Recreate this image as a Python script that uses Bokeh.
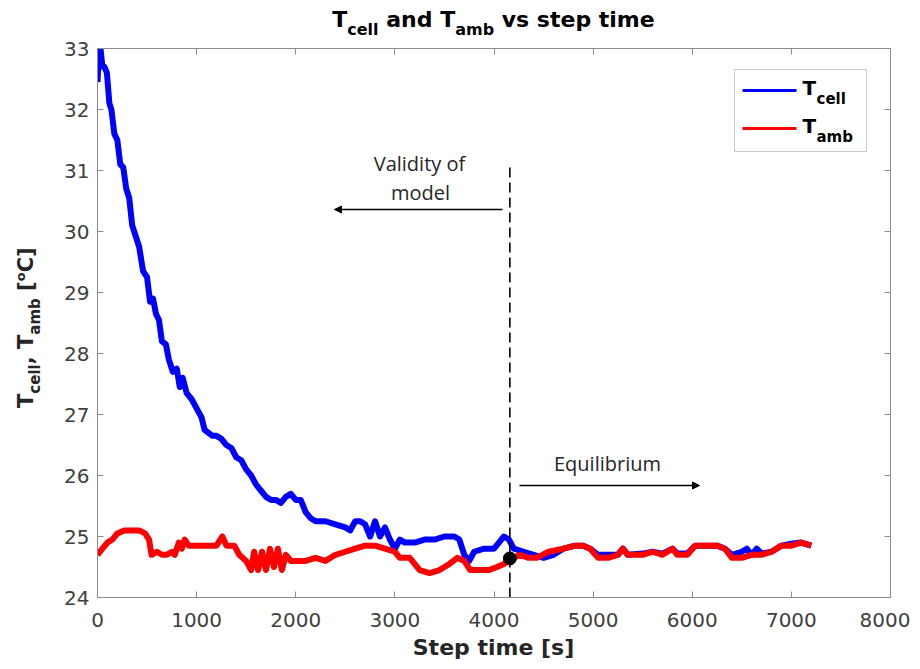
import numpy as np
from bokeh.plotting import figure
from bokeh.models import (Range1d, LinearAxis, Label, Arrow, NormalHead, BoxAnnotation,
                          FixedTicker, CustomJSTickFormatter, Div, Column, Row)
from bokeh.embed import file_html
from bokeh.resources import INLINE

# ---------------- data ----------------
t_cell = [0, 15, 30, 50, 70, 95, 120, 140, 170, 200, 230, 260, 290, 320, 350, 380, 420, 460,
          500, 530, 560, 590, 620, 650, 690, 720, 760, 800, 830, 860, 900, 950, 1000, 1050,
          1080, 1120, 1160, 1200, 1250, 1300, 1350, 1400, 1450, 1500, 1550, 1600, 1650, 1700,
          1750, 1800, 1850, 1900, 1950, 2000, 2050, 2100, 2150, 2200, 2300, 2400, 2500, 2550,
          2600, 2650, 2700, 2750, 2800, 2850, 2900, 2950, 3000, 3050, 3100, 3200, 3300, 3400,
          3500, 3600, 3650, 3700, 3750, 3800, 3900, 4000, 4050, 4100, 4150, 4200, 4300, 4400,
          4500, 4600, 4700, 4820, 4900, 4970, 5050, 5150, 5250, 5300, 5350, 5500, 5600, 5700,
          5800, 5850, 5950, 6030, 6150, 6250, 6330, 6400, 6500, 6550, 6600, 6650, 6700, 6800,
          6900, 7000, 7100, 7200]
T_cell = [32.45, 32.95, 33.0, 32.7, 32.7, 32.6, 32.1, 32.0, 31.6, 31.5, 31.1, 31.05, 30.7, 30.55,
          30.1, 29.95, 29.75, 29.35, 29.25, 28.85, 28.9, 28.65, 28.55, 28.2, 28.15, 27.9, 27.7,
          27.75, 27.45, 27.6, 27.35, 27.25, 27.1, 26.95, 26.75, 26.7, 26.65, 26.65, 26.6, 26.5,
          26.45, 26.3, 26.25, 26.1, 26.0, 25.85, 25.75, 25.65, 25.6, 25.6, 25.55, 25.65, 25.7,
          25.6, 25.6, 25.4, 25.3, 25.25, 25.25, 25.2, 25.15, 25.1, 25.25, 25.25, 25.2, 25.0,
          25.25, 25.0, 25.15, 24.95, 24.8, 24.95, 24.9, 24.9, 24.95, 24.95, 25.0, 25.0, 24.95,
          24.7, 24.6, 24.75, 24.8, 24.8, 24.9, 25.0, 24.95, 24.8, 24.75, 24.7, 24.65, 24.7, 24.8,
          24.85, 24.85, 24.8, 24.7, 24.7, 24.7, 24.8, 24.7, 24.72, 24.75, 24.72, 24.8, 24.72,
          24.72, 24.85, 24.85, 24.85, 24.8, 24.7, 24.75, 24.8, 24.7, 24.8, 24.72, 24.75, 24.85,
          24.88, 24.9, 24.85]

t_amb = [0, 50, 100, 150, 200, 270, 350, 420, 480, 520, 545, 600, 650, 700, 750, 780, 820, 850,
         880, 920, 1000, 1100, 1200, 1260, 1300, 1380, 1430, 1500, 1550, 1580, 1620, 1660, 1700,
         1740, 1780, 1820, 1860, 1900, 1950, 2000, 2100, 2200, 2300, 2400, 2500, 2600, 2700,
         2800, 2900, 3000, 3050, 3150, 3250, 3350, 3450, 3550, 3630, 3700, 3760, 3850, 3950,
         4030, 4100, 4200, 4260, 4350, 4430, 4550, 4700, 4820, 4900, 4970, 5050, 5150, 5250,
         5300, 5350, 5500, 5600, 5700, 5800, 5850, 5950, 6030, 6150, 6250, 6330, 6400, 6500,
         6600, 6700, 6800, 6900, 7000, 7100, 7200]
T_amb = [24.7, 24.8, 24.9, 24.95, 25.05, 25.1, 25.1, 25.1, 25.05, 24.95, 24.7, 24.75, 24.7, 24.7,
         24.75, 24.7, 24.9, 24.8, 24.95, 24.85, 24.85, 24.85, 24.85, 25.0, 24.85, 24.85, 24.7,
         24.6, 24.45, 24.75, 24.45, 24.75, 24.45, 24.8, 24.5, 24.8, 24.45, 24.7, 24.6, 24.6,
         24.6, 24.65, 24.6, 24.7, 24.75, 24.8, 24.85, 24.85, 24.8, 24.75, 24.65, 24.65, 24.45,
         24.4, 24.45, 24.55, 24.65, 24.6, 24.45, 24.45, 24.45, 24.5, 24.55, 24.65, 24.7, 24.65,
         24.65, 24.75, 24.8, 24.85, 24.85, 24.8, 24.65, 24.65, 24.7, 24.8, 24.7, 24.7, 24.75,
         24.7, 24.8, 24.7, 24.7, 24.85, 24.85, 24.85, 24.8, 24.65, 24.65, 24.7, 24.7, 24.75,
         24.85, 24.85, 24.9, 24.85]

x_ticks = [0, 1000, 2000, 3000, 4000, 5000, 6000, 7000, 8000]
y_ticks = [24, 25, 26, 27, 28, 29, 30, 31, 32, 33]

equil_time = 4160      # dashed line / marker position
equil_temp = 24.64
dash_top = 31.1

# ---------------- layout ----------------
PX0, PY0 = 1, 0                  # observed page position of the layout's top-left
TITLE_H, YLAB_W, XLAB_H = 34, 50, 30
W, H = 860, 603                  # main figure
BL, BR, BT, BB = 47, 20, 14, 40
FW, FH = W - BL - BR, H - BT - BB
FIG_X0, FIG_Y0 = PX0 + YLAB_W, PY0 + TITLE_H


def dx(px):   # page pixel -> data x (annotation placement only)
    return (px - FIG_X0 - BL) * 8000.0 / FW


def dy(py):   # page pixel -> data y (annotation placement only)
    return 24 + (FIG_Y0 + H - BB - py) * 9.0 / FH


p = figure(width=W, height=H, output_backend="svg", toolbar_location=None,
           x_range=Range1d(0, 8000), y_range=Range1d(24, 33),
           min_border_left=BL, min_border_right=BR, min_border_top=BT, min_border_bottom=BB,
           title=None, margin=(0, 0, 0, 0))
p.xgrid.visible = False
p.ygrid.visible = False
p.outline_line_color = "#8c8c8c"
p.background_fill_color = "white"
p.border_fill_color = None

AX_COL = "#8c8c8c"
LBL_COL = "#404040"
for ax, tk in ((p.xaxis[0], x_ticks), (p.yaxis[0], y_ticks)):
    ax.ticker = FixedTicker(ticks=tk)
    ax.axis_line_color = AX_COL
    ax.major_tick_line_color = AX_COL
    ax.major_tick_in = 6
    ax.major_tick_out = 0
    ax.minor_tick_line_color = None
    ax.major_label_text_font = "DejaVu Sans"
    ax.major_label_text_font_size = "20px"
    ax.major_label_text_color = LBL_COL
p.xaxis[0].major_label_standoff = 15
p.yaxis[0].major_label_standoff = 8

blank = CustomJSTickFormatter(code="return ''")
top_ax = LinearAxis(ticker=FixedTicker(ticks=x_ticks), formatter=blank)
right_ax = LinearAxis(ticker=FixedTicker(ticks=y_ticks), formatter=blank)
for ax in (top_ax, right_ax):
    ax.axis_line_color = AX_COL
    ax.major_tick_line_color = AX_COL
    ax.major_tick_in = 6
    ax.major_tick_out = 0
    ax.minor_tick_line_color = None
    ax.major_label_text_font_size = "1px"
    ax.major_label_standoff = 0
p.add_layout(top_ax, "above")
p.add_layout(right_ax, "right")

# ---------------- series ----------------
p.line(t_cell, T_cell, line_color="#0000ff", line_width=6, line_join="round")
p.line(t_amb, T_amb, line_color="#ff0000", line_width=6, line_join="round")

# dashed separator + marker
p.line([equil_time, equil_time], [24, dash_top], line_color="black", line_width=1.6,
       line_dash="10 5")
p.scatter([equil_time], [equil_temp], size=13, fill_color="black", line_color="black")

# arrows
p.add_layout(Arrow(x_start=dx(503), y_start=dy(209), x_end=dx(335), y_end=dy(209),
                   line_color="black", line_width=1.5,
                   end=NormalHead(size=7, fill_color="black", line_color="black")))
p.add_layout(Arrow(x_start=dx(520), y_start=dy(485), x_end=dx(700), y_end=dy(485),
                   line_color="black", line_width=1.5,
                   end=NormalHead(size=7, fill_color="black", line_color="black")))

SHIFT = {"DejaVu Sans": 0.33, "Open Sans": 0.45}


def lab(px, py, text, size, bold=False, font="DejaVu Sans", align="left", color="black"):
    py = py - SHIFT[font] * size
    p.add_layout(Label(x=px - FIG_X0, y=py - FIG_Y0, x_units="canvas", y_units="canvas",
                       text=text, text_font=font, text_font_size=f"{size}px",
                       text_font_style="bold" if bold else "normal", text_align=align,
                       text_baseline="alphabetic", text_color=color))


ANN_FONT = "Open Sans"
lab(420, 172, "Validity of", 20, font=ANN_FONT, align="center", color="#262626")
lab(421, 201, "model", 20, font=ANN_FONT, align="center", color="#262626")
lab(608, 472, "Equilibrium", 20, font=ANN_FONT, align="center", color="#262626")

# legend (manual, for subscripts)
p.add_layout(BoxAnnotation(left=dx(735), right=dx(867), top=dy(69), bottom=dy(151),
                           fill_color="white", fill_alpha=1.0, line_color="#555555",
                           line_width=1, level="underlay"))
p.line([dx(743), dx(797)], [dy(90), dy(90)], line_color="#0000ff", line_width=3)
p.line([dx(743), dx(797)], [dy(128), dy(128)], line_color="#ff0000", line_width=3)
lab(803, 94, "T", 20, bold=True)
lab(817, 103, "cell", 15, bold=True)
lab(803, 132, "T", 20, bold=True)
lab(817, 141, "amb", 15, bold=True)

# ---------------- title / axis labels as HTML text (subscripts) ----------------
FONT = "font-family:'DejaVu Sans';font-weight:bold;white-space:nowrap;"
SUB = "position:relative;top:{}px;font-size:{}px;"

title_html = (
    f'<div style="position:absolute;left:{98 - PX0}px;width:793px;top:{28 - 19 - PY0}px;'
    f'text-align:center;font-size:22px;line-height:22px;color:#000;{FONT}">'
    f'T<span style="{SUB.format(8, 16)}">cell</span> and '
    f'T<span style="{SUB.format(8, 16)}">amb</span> vs step time</div>')
title_div = Div(text=title_html, width=YLAB_W + W, height=TITLE_H, margin=(0, 0, 0, 0))

ylab_html = (
    f'<div style="position:absolute;left:{35 - 18 - PX0}px;top:{408 - FIG_Y0}px;'
    f'transform:rotate(-90deg);transform-origin:0 0;font-size:21px;line-height:21px;'
    f'color:#262626;{FONT}">'
    f'T<span style="{SUB.format(7, 15)}">cell</span>, '
    f'T<span style="{SUB.format(7, 15)}">amb</span> '
    f'[<span style="{SUB.format(-8, 13)}">o</span>C]</div>')
ylab_div = Div(text=ylab_html, width=YLAB_W, height=H, margin=(0, 0, 0, 0))

XLAB_Y0 = FIG_Y0 + H
xlab_html = (
    f'<div style="position:absolute;left:{98 - PX0}px;width:793px;top:{656 - 19 - XLAB_Y0}px;'
    f'text-align:center;font-size:22px;line-height:22px;color:#262626;{FONT}">'
    f'Step time [s]</div>')
xlab_div = Div(text=xlab_html, width=YLAB_W + W, height=XLAB_H, margin=(0, 0, 0, 0))

layout = Column(children=[title_div, Row(children=[ylab_div, p], spacing=0), xlab_div],
                spacing=0)

open("out.html", "w").write(file_html(layout, INLINE))
